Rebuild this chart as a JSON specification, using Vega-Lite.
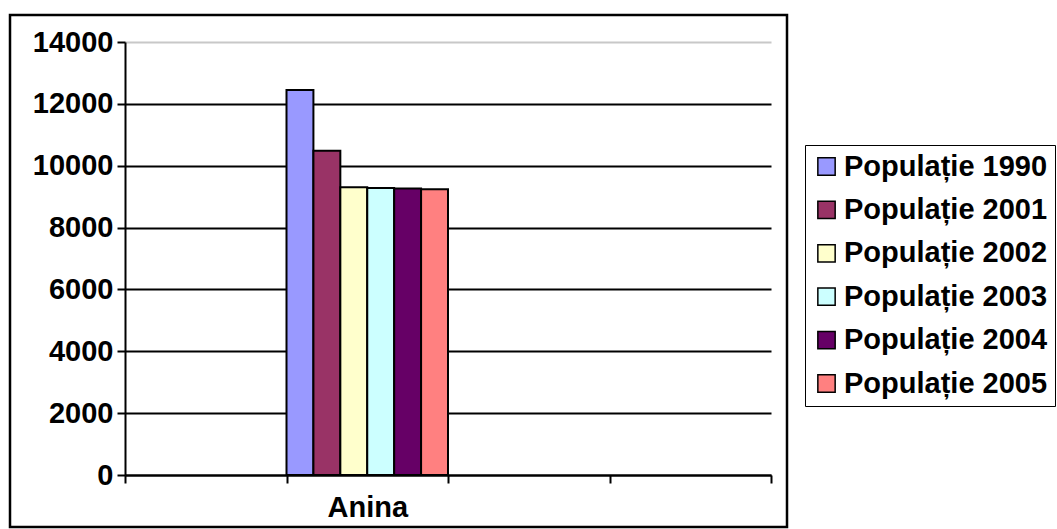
{
  "$schema": "https://vega.github.io/schema/vega-lite/v6.json",
  "autosize": {"type": "none"},
  "width": 646,
  "height": 433,
  "padding": {"left": 125, "top": 42, "right": 286, "bottom": 54},
  "background": "white",
  "config": {
    "view": {"stroke": null},
    "font": "Liberation Sans"
  },
  "data": {
    "values": [
      {"loc": "Anina", "series": "Populație 1990", "value": 12450},
      {"loc": "Anina", "series": "Populație 2001", "value": 10480},
      {"loc": "Anina", "series": "Populație 2002", "value": 9300},
      {"loc": "Anina", "series": "Populație 2003", "value": 9280},
      {"loc": "Anina", "series": "Populație 2004", "value": 9260},
      {"loc": "Anina", "series": "Populație 2005", "value": 9235}
    ]
  },
  "encoding": {
    "x": {
      "field": "loc",
      "type": "nominal",
      "scale": {"domain": ["c1", "Anina", "c3", "c4"], "paddingInner": 0, "paddingOuter": 0},
      "axis": {
        "title": null,
        "labelExpr": "datum.value == 'Anina' ? 'Anina' : ''",
        "labelAngle": 0,
        "labelFont": "Liberation Sans",
        "labelFontSize": 29,
        "labelFontWeight": "bold",
        "labelColor": "black",
        "labelPadding": 10,
        "tickBand": "extent",
        "tickColor": "black",
        "tickWidth": 2,
        "tickSize": 8,
        "domainColor": "black",
        "domainWidth": 2,
        "grid": false
      }
    },
    "xOffset": {
      "field": "series",
      "type": "nominal",
      "scale": {"paddingInner": 0, "paddingOuter": 0}
    },
    "y": {
      "field": "value",
      "type": "quantitative",
      "scale": {"domain": [0, 14000], "nice": false},
      "axis": {
        "title": null,
        "values": [0, 2000, 4000, 6000, 8000, 10000, 12000, 14000],
        "format": "d",
        "labelFont": "Liberation Sans",
        "labelFontSize": 29,
        "labelFontWeight": "bold",
        "labelColor": "black",
        "labelPadding": 4,
        "tickColor": "black",
        "tickWidth": 2,
        "tickSize": 8,
        "domainColor": "black",
        "domainWidth": 2,
        "grid": true,
        "gridColor": {"condition": {"test": "datum.value == 14000", "value": "#c8c8c8"}, "value": "black"},
        "gridWidth": 2
      }
    }
  },
  "layer": [
    {
      "mark": {"type": "bar", "stroke": "black", "strokeWidth": 2},
      "encoding": {
        "fill": {
          "field": "series",
          "type": "nominal",
          "scale": {
            "domain": ["Populație 1990", "Populație 2001", "Populație 2002", "Populație 2003", "Populație 2004", "Populație 2005"],
            "range": ["#9999FF", "#993366", "#FFFFCC", "#CCFFFF", "#660066", "#FF8080"]
          },
          "legend": {
            "title": null,
            "orient": "none",
            "legendX": 680,
            "legendY": 103,
            "symbolType": "square",
            "symbolSize": 300,
            "symbolStrokeColor": "black",
            "symbolStrokeWidth": 1.5,
            "labelFont": "Liberation Sans",
            "labelFontSize": 29,
            "labelFontWeight": "bold",
            "labelColor": "black",
            "labelOffset": 3,
            "labelLimit": 400,
            "rowPadding": 13.4,
            "padding": 7,
            "strokeColor": "black"
          }
        }
      }
    },
    {
      "mark": {"type": "bar", "fillOpacity": 0, "strokeOpacity": 0},
      "encoding": {
        "stroke": {
          "field": "value",
          "type": "quantitative",
          "scale": {"range": ["rgba(255,255,255,0)", "rgba(255,255,255,0)"]},
          "legend": {
            "title": null,
            "orient": "none",
            "direction": "vertical",
            "legendX": -115,
            "legendY": -27,
            "gradientLength": 512,
            "gradientThickness": 777,
            "gradientStrokeColor": "black",
            "gradientStrokeWidth": 2.5,
            "labelExpr": "''",
            "labelOpacity": 0,
            "tickCount": 2,
            "padding": 0
          }
        }
      }
    }
  ]
}
